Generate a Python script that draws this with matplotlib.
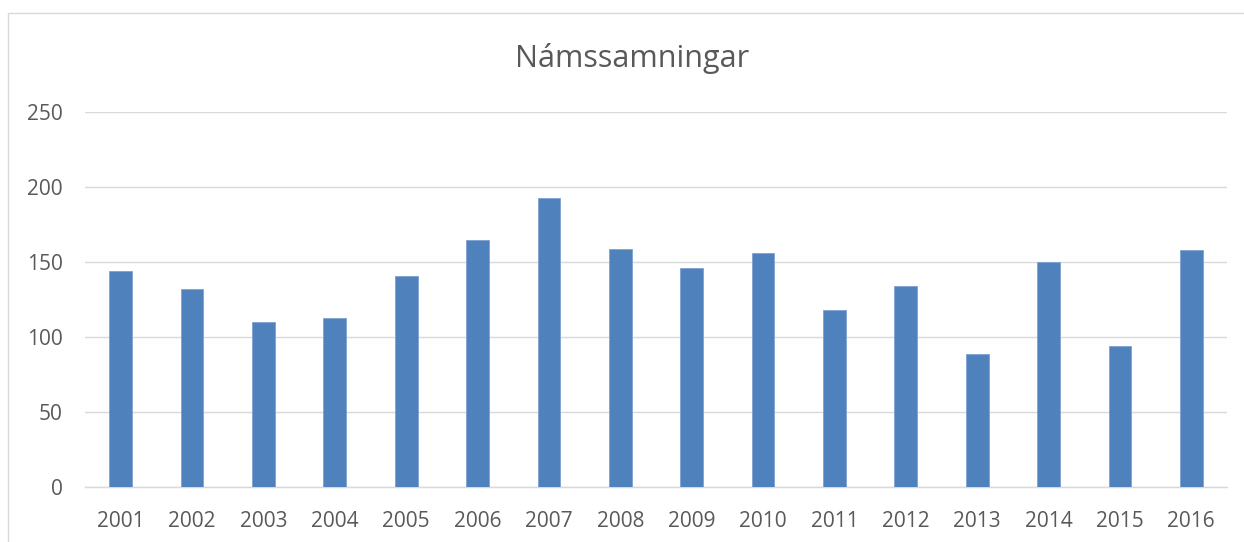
import matplotlib
matplotlib.use("Agg")
import matplotlib.pyplot as plt
from matplotlib.patches import Rectangle

years = ["2001", "2002", "2003", "2004", "2005", "2006", "2007", "2008",
         "2009", "2010", "2011", "2012", "2013", "2014", "2015", "2016"]
values = [144, 132, 110, 113, 141, 165, 193, 159,
          146, 156, 118, 134, 89, 150, 94, 158]
yticks = [0, 50, 100, 150, 200, 250]
title = "Námssamningar"

plt.rcParams['font.family'] = ['Open Sans', 'DejaVu Sans']

W, H = 1244, 542
fig = plt.figure(figsize=(W / 100, H / 100), dpi=100)
fig.patch.set_facecolor("white")

# chart border
fig.patches.append(Rectangle((8 / W, -0.1), 1.2, 1 - 13 / H + 0.1,
                             transform=fig.transFigure, fill=False,
                             edgecolor="#d9d9d9", linewidth=1.0))

ax = fig.add_axes([85 / W, (H - 487) / H, (1227 - 85) / W, 375 / H])
x = list(range(len(years)))
ax.bar(x, values, width=0.32, color="#4f81bd", edgecolor="#7fa2d2",
       linewidth=0.6, zorder=3)
ax.set_xlim(-0.5, len(years) - 0.5)
ax.set_ylim(0, 250)
ax.set_yticks(yticks)
ax.set_xticks(x)
ax.set_xticklabels(years)
ax.grid(axis="y", color="#d9d9d9", linewidth=1.0, zorder=0)
for s in ["top", "right", "left"]:
    ax.spines[s].set_visible(False)
ax.spines["bottom"].set_color("#d9d9d9")
ax.spines["bottom"].set_linewidth(1.0)
ax.tick_params(axis="both", length=0, labelsize=15, colors="#595959")
ax.tick_params(axis="x", pad=17)
ax.tick_params(axis="y", pad=16)

fig.text(632 / W, 1 - 58 / H, title, ha="center", va="center",
         fontsize=22, color="#595959", fontweight="normal")

fig.savefig("out.png", dpi=100, facecolor="white")
